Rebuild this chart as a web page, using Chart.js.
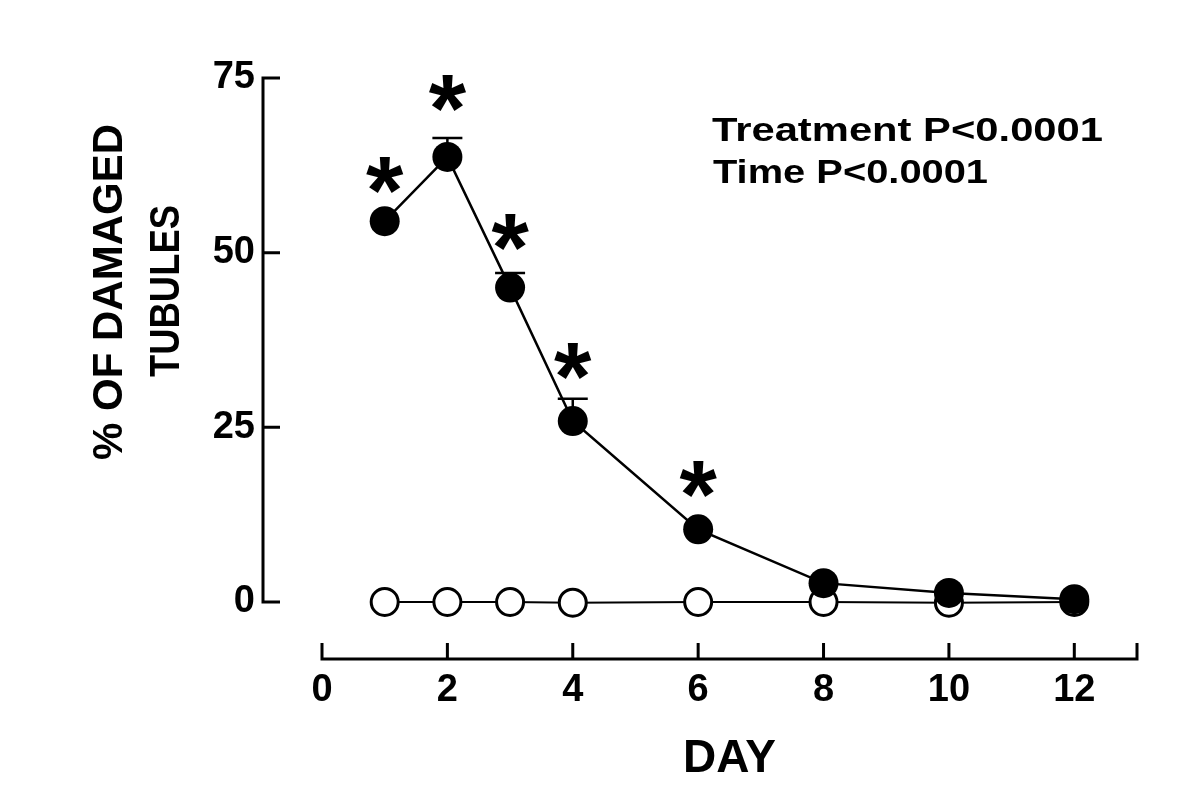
<!DOCTYPE html>
<html>
<head>
<meta charset="utf-8">
<script src="https://cdn.jsdelivr.net/npm/chart.js@4.4.1/dist/chart.umd.min.js"></script>
<style>
  html, body { margin: 0; padding: 0; background: #fff; }
</style>
</head>
<body>
<canvas id="tubules-chart" width="1200" height="806"></canvas>
<script>
// days sampled
const days = [1, 2, 3, 4, 6, 8, 10, 12];
// % of damaged tubules: treated (filled circles), SEM, control (open circles)
const treated = [54.5, 63.7, 45.0, 25.9, 10.4, 2.7, 1.3, 0.4];
const treatedSem = [0, 2.7, 2.1, 3.2, 0, 0, 0, 0];   // 0 = bar hidden by the marker
const control = [0, 0, 0, -0.1, 0, 0, -0.1, 0];
// significance stars (day, height on the % scale)
const starDays = [1, 2, 3, 4, 6];
const starY = [61.1, 72.9, 52.9, 34.5, 17.6];
// axis ticks
const yTicks = [0, 25, 50, 75];
const xTicks = [0, 2, 4, 6, 8, 10, 12];
const xAxisEnd = 13;
const statsText = ['Treatment P<0.0001', 'Time P<0.0001'];
const yTitle = ['% OF DAMAGED', 'TUBULES'];

const FONT = '"Liberation Sans", Arial, sans-serif';

// fill text stretched horizontally to a given width
function wideText(ctx, text, x, y, width) {
  const w = ctx.measureText(text).width;
  ctx.save();
  ctx.translate(x, y);
  ctx.scale(width / w, 1);
  ctx.fillText(text, 0, 0);
  ctx.restore();
}

// axes, error bars, stars and texts drawn by hand
const extras = {
  id: 'extras',
  beforeDatasetsDraw(chart) {
    const {ctx, chartArea, scales: {x, y}} = chart;
    ctx.save();
    ctx.strokeStyle = '#000';
    ctx.lineCap = 'butt';

    // y axis, ticks pointing inward
    const yAxisX = chartArea.left - 59;
    ctx.lineWidth = 3;
    ctx.beginPath();
    ctx.moveTo(yAxisX, y.getPixelForValue(0) + 1.5);
    ctx.lineTo(yAxisX, y.getPixelForValue(75) - 1.5);
    yTicks.forEach(v => {
      const py = y.getPixelForValue(v);
      ctx.moveTo(yAxisX, py);
      ctx.lineTo(yAxisX + 17, py);
    });
    ctx.stroke();

    // x axis, ticks pointing up
    const xAxisY = chartArea.bottom + 57;
    ctx.beginPath();
    ctx.moveTo(x.getPixelForValue(0) - 1.5, xAxisY);
    ctx.lineTo(x.getPixelForValue(xAxisEnd) + 1.5, xAxisY);
    xTicks.concat([xAxisEnd]).forEach(v => {
      const px = x.getPixelForValue(v);
      ctx.moveTo(px, xAxisY);
      ctx.lineTo(px, xAxisY - 16);
    });
    ctx.stroke();

    // upper error bars (drawn under the markers)
    ctx.lineWidth = 2.5;
    ctx.beginPath();
    days.forEach((d, i) => {
      if (!treatedSem[i]) return;
      const px = x.getPixelForValue(d);
      const top = y.getPixelForValue(treated[i] + treatedSem[i]);
      ctx.moveTo(px, y.getPixelForValue(treated[i]));
      ctx.lineTo(px, top);
      ctx.moveTo(px - 15, top);
      ctx.lineTo(px + 15, top);
    });
    ctx.stroke();
    ctx.restore();
  },
  afterDatasetsDraw(chart) {
    const {ctx, scales: {x, y}} = chart;
    ctx.save();
    ctx.fillStyle = '#000';

    // stars
    ctx.font = 'bold 96px ' + FONT;
    ctx.textAlign = 'center';
    ctx.textBaseline = 'alphabetic';
    const m = ctx.measureText('*');
    const mid = (m.actualBoundingBoxAscent - m.actualBoundingBoxDescent) / 2;
    starDays.forEach((d, i) => {
      ctx.fillText('*', x.getPixelForValue(d), y.getPixelForValue(starY[i]) + mid);
    });

    // y title, two rotated lines
    ctx.font = 'bold 42px ' + FONT;
    ctx.textBaseline = 'middle';
    ctx.save();
    ctx.translate(110, 292);
    ctx.rotate(-Math.PI / 2);
    ctx.fillText(yTitle[0], 0, 0);
    ctx.restore();
    ctx.save();
    ctx.translate(167, 291);
    ctx.rotate(-Math.PI / 2);
    ctx.fillText(yTitle[1], 0, 0, 172);
    ctx.restore();

    // stats text
    ctx.font = 'bold 33px ' + FONT;
    ctx.textAlign = 'left';
    ctx.textBaseline = 'alphabetic';
    wideText(ctx, statsText[0], 712, 141, 391);
    wideText(ctx, statsText[1], 713, 183, 275);
    ctx.restore();
  }
};

const canvas = document.getElementById('tubules-chart');
const ctx_tubules = canvas.getContext('2d');

const tubules_chart = new Chart(ctx_tubules, {
  type: 'line',
  data: {
    datasets: [
      {
        label: 'Treated',
        data: days.map((d, i) => ({x: d, y: treated[i]})),
        borderColor: '#000',
        borderWidth: 2.5,
        pointRadius: 15,
        pointBackgroundColor: '#000',
        pointBorderColor: '#000',
        pointBorderWidth: 0,
        tension: 0,
        clip: false,
      },
      {
        label: 'Control',
        data: days.map((d, i) => ({x: d, y: control[i]})),
        borderColor: '#000',
        borderWidth: 2,
        pointRadius: 13.5,
        pointBackgroundColor: '#fff',
        pointBorderColor: '#000',
        pointBorderWidth: 3,
        tension: 0,
        clip: false,
      }
    ]
  },
  options: {
    responsive: false,
    animation: false,
    layout: {
      padding: {left: 0, right: 63, top: 78, bottom: 0}
    },
    plugins: {
      legend: { display: false },
      tooltip: { enabled: false },
    },
    scales: {
      x: {
        type: 'linear',
        min: 0,
        max: xAxisEnd,
        grid: { display: false, drawTicks: false },
        border: { display: false },
        afterBuildTicks: scale => { scale.ticks = xTicks.map(v => ({value: v})); },
        afterFit: scale => {
          scale.height = 204;
          scale.paddingLeft = 0;
          scale.paddingRight = 0;
        },
        ticks: {
          color: '#000',
          padding: 66,
          maxRotation: 0,
          font: { family: FONT, size: 38, weight: 'bold' },
        },
        title: {
          display: true,
          text: 'DAY',
          color: '#000',
          font: { family: FONT, size: 46, weight: 'bold' },
          padding: { top: 0, bottom: 19 },
        }
      },
      y: {
        type: 'linear',
        min: 0,
        max: 75,
        grid: { display: false, drawTicks: false },
        border: { display: false },
        afterBuildTicks: scale => { scale.ticks = yTicks.map(v => ({value: v})); },
        afterFit: scale => {
          scale.width = 322;
          scale.paddingTop = 0;
          scale.paddingBottom = 0;
        },
        ticks: {
          color: '#000',
          padding: 67,
          font: { family: FONT, size: 38, weight: 'bold' },
        }
      }
    }
  },
  plugins: [extras]
});
</script>
</body>
</html>
